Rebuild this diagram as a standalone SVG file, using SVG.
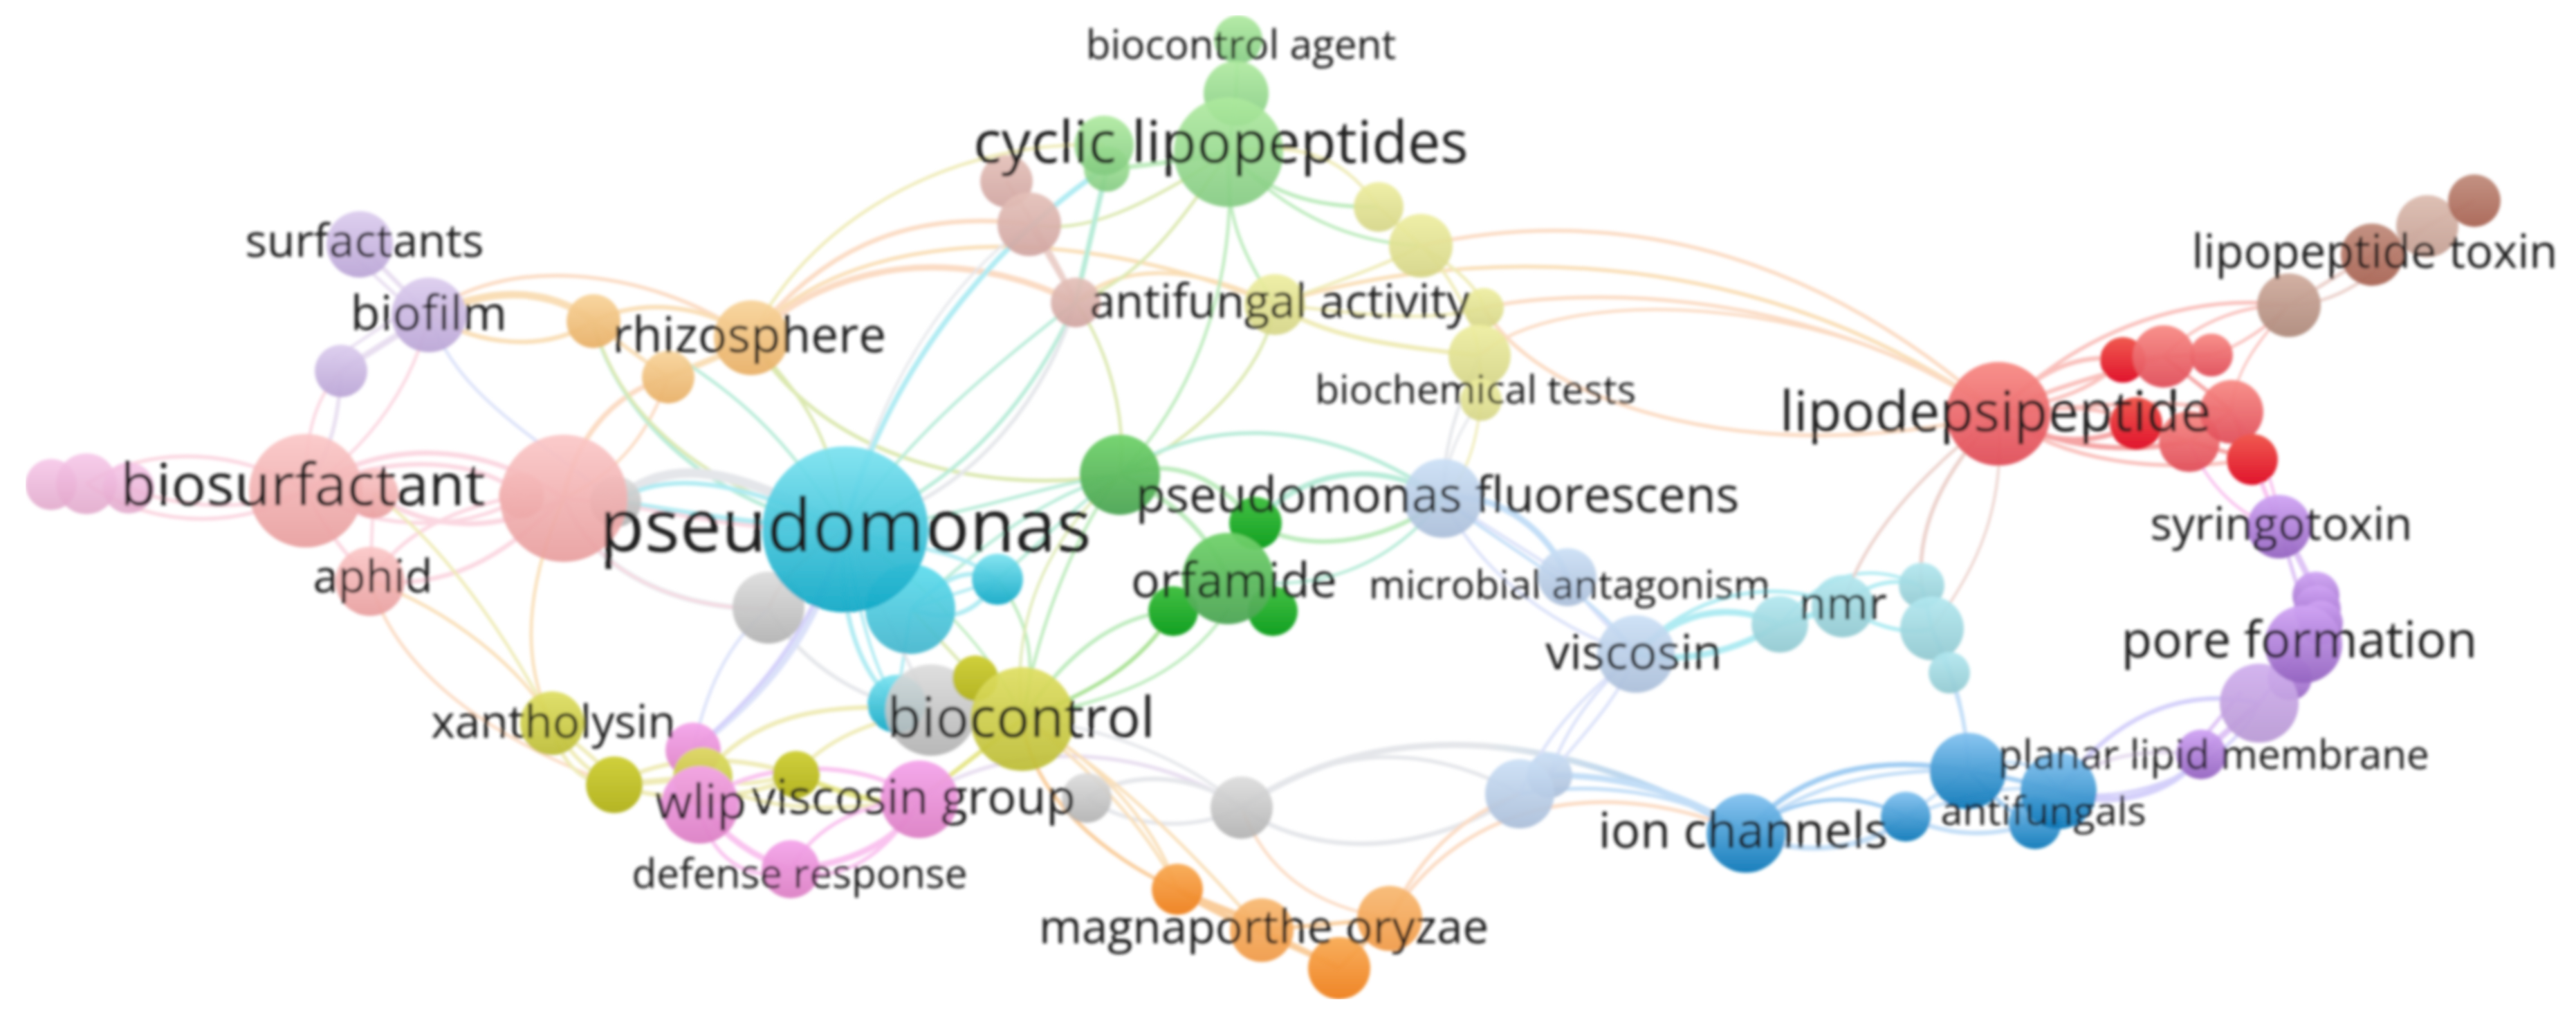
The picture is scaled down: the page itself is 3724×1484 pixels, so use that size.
<svg xmlns="http://www.w3.org/2000/svg" width="3724" height="1484" viewBox="0 0 3724 1484">
<style>
text{font-family:"Open Sans","Noto Sans","Liberation Sans",sans-serif;fill:#1a1a1a;text-anchor:middle}
.e{fill:none}
.w3{stroke-width:3.5}.w4{stroke-width:4.5}.w5{stroke-width:5.5}.w6{stroke-width:6.5}.w7{stroke-width:7.5}.w8{stroke-width:9}.w9{stroke-width:11}.w12{stroke-width:14}
.pk{stroke:#fbd0dc}.pu{stroke:#e4d8ee}.lv{stroke:#d4dcf8}.pe{stroke:#fbd4b8}.or{stroke:#f8d8a8}.ye{stroke:#ece8a8}.yg{stroke:#d4e4a0}.gn{stroke:#b0e8b0}.gm{stroke:#98dc80}.te{stroke:#a8e8d0}.cy{stroke:#a0e8f0}.gy{stroke:#dfe2e6}.rd{stroke:#f8b4b0}.rs{stroke:#f49494}.bl{stroke:#b8d8f6}.bs{stroke:#90c4f0}.mg{stroke:#f8b8ec}.vi{stroke:#d8b8f4}.vb{stroke:#ccc8fa}.br{stroke:#e8c8c0}.oc{stroke:#f8c488}.ol{stroke:#e0e070}.gb{stroke:url(#gb)}
.s57{font-size:57.5px}.s58{font-size:58.5px}.s65{font-size:65.5px}.s66{font-size:66px}.s67{font-size:67px}.s70{font-size:70px}.s71{font-size:71px}.s72{font-size:72.5px}.s80{font-size:80px}.s81{font-size:81px}.s84{font-size:84.5px}.s85{font-size:85px}.s107{font-size:107px}
.cyan{fill:url(#cyan)}.cy2{fill:url(#cy2)}.red1{fill:url(#red1)}.lil{fill:url(#lil)}.oran{fill:url(#oran)}.pnk{fill:url(#pnk)}.grl{fill:url(#grl)}.grm{fill:url(#grm)}.grd{fill:url(#grd)}.bro{fill:url(#bro)}.yel{fill:url(#yel)}.blu{fill:url(#blu)}.gry{fill:url(#gry)}.oli{fill:url(#oli)}.ol2{fill:url(#ol2)}.mag{fill:url(#mag)}.org{fill:url(#org)}.or2{fill:url(#or2)}.ion{fill:url(#ion)}.ltc{fill:url(#ltc)}.rds{fill:url(#rds)}.rdd{fill:url(#rdd)}.tan{fill:url(#tan)}.ta2{fill:url(#ta2)}.tn2{fill:url(#tn2)}.pur{fill:url(#pur)}.pu2{fill:url(#pu2)}
</style>
<defs>
<filter id="soft" x="0" y="0" width="1" height="1" filterUnits="objectBoundingBox"><feGaussianBlur stdDeviation="1.9"/></filter>
<linearGradient id="gb" gradientUnits="userSpaceOnUse" x1="2150" y1="0" x2="2524" y2="0"><stop offset="0" stop-color="#dfe2e6"/><stop offset="1" stop-color="#88c0f0"/></linearGradient>
<linearGradient id="cyan" x1="0" y1="0" x2="0" y2="1"><stop offset="0" stop-color="#7ae2f0" stop-opacity=".92"/><stop offset="1" stop-color="#10a8c6" stop-opacity=".94"/></linearGradient>
<linearGradient id="cy2" x1="0" y1="0" x2="0" y2="1"><stop offset="0" stop-color="#58dcee" stop-opacity=".9"/><stop offset="1" stop-color="#3fb4cc" stop-opacity=".9"/></linearGradient>
<linearGradient id="red1" x1="0" y1="0" x2="0" y2="1"><stop offset="0" stop-color="#fbc6c6" stop-opacity=".9"/><stop offset="1" stop-color="#e89c9c" stop-opacity=".9"/></linearGradient>
<linearGradient id="lil" x1="0" y1="0" x2="0" y2="1"><stop offset="0" stop-color="#dccdee" stop-opacity=".95"/><stop offset="1" stop-color="#bba6d6" stop-opacity=".95"/></linearGradient>
<linearGradient id="oran" x1="0" y1="0" x2="0" y2="1"><stop offset="0" stop-color="#f8d49b" stop-opacity=".95"/><stop offset="1" stop-color="#e8b068" stop-opacity=".95"/></linearGradient>
<linearGradient id="pnk" x1="0" y1="0" x2="0" y2="1"><stop offset="0" stop-color="#f6c4e8" stop-opacity=".85"/><stop offset="1" stop-color="#e0a4c8" stop-opacity=".85"/></linearGradient>
<linearGradient id="grl" x1="0" y1="0" x2="0" y2="1"><stop offset="0" stop-color="#aeea9e" stop-opacity=".9"/><stop offset="1" stop-color="#82ca80" stop-opacity=".9"/></linearGradient>
<linearGradient id="grm" x1="0" y1="0" x2="0" y2="1"><stop offset="0" stop-color="#70d26a" stop-opacity=".95"/><stop offset="1" stop-color="#4ca454" stop-opacity=".95"/></linearGradient>
<linearGradient id="grd" x1="0" y1="0" x2="0" y2="1"><stop offset="0" stop-color="#44c044"/><stop offset="1" stop-color="#12a022"/></linearGradient>
<linearGradient id="bro" x1="0" y1="0" x2="0" y2="1"><stop offset="0" stop-color="#e4c0b8" stop-opacity=".92"/><stop offset="1" stop-color="#d0a4a0" stop-opacity=".92"/></linearGradient>
<linearGradient id="yel" x1="0" y1="0" x2="0" y2="1"><stop offset="0" stop-color="#eeee9e" stop-opacity=".9"/><stop offset="1" stop-color="#d4d484" stop-opacity=".9"/></linearGradient>
<linearGradient id="blu" x1="0" y1="0" x2="0" y2="1"><stop offset="0" stop-color="#cadff6" stop-opacity=".9"/><stop offset="1" stop-color="#a8bcd8" stop-opacity=".9"/></linearGradient>
<linearGradient id="gry" x1="0" y1="0" x2="0" y2="1"><stop offset="0" stop-color="#dcdcdc" stop-opacity=".9"/><stop offset="1" stop-color="#b0b0b0" stop-opacity=".9"/></linearGradient>
<linearGradient id="oli" x1="0" y1="0" x2="0" y2="1"><stop offset="0" stop-color="#dede60" stop-opacity=".92"/><stop offset="1" stop-color="#bcbc34" stop-opacity=".92"/></linearGradient>
<linearGradient id="ol2" x1="0" y1="0" x2="0" y2="1"><stop offset="0" stop-color="#d0d03c"/><stop offset="1" stop-color="#b4b424"/></linearGradient>
<linearGradient id="mag" x1="0" y1="0" x2="0" y2="1"><stop offset="0" stop-color="#f4a4ea" stop-opacity=".95"/><stop offset="1" stop-color="#dc80c4" stop-opacity=".95"/></linearGradient>
<linearGradient id="org" x1="0" y1="0" x2="0" y2="1"><stop offset="0" stop-color="#f8aa54" stop-opacity=".95"/><stop offset="1" stop-color="#ee7f1c" stop-opacity=".95"/></linearGradient>
<linearGradient id="or2" x1="0" y1="0" x2="0" y2="1"><stop offset="0" stop-color="#f8b870" stop-opacity=".92"/><stop offset="1" stop-color="#f09844" stop-opacity=".92"/></linearGradient>
<linearGradient id="ion" x1="0" y1="0" x2="0" y2="1"><stop offset="0" stop-color="#84c2f0" stop-opacity=".95"/><stop offset="1" stop-color="#0c78b8" stop-opacity=".95"/></linearGradient>
<linearGradient id="ltc" x1="0" y1="0" x2="0" y2="1"><stop offset="0" stop-color="#b2e8f0" stop-opacity=".92"/><stop offset="1" stop-color="#90c8d0" stop-opacity=".92"/></linearGradient>
<linearGradient id="rds" x1="0" y1="0" x2="0" y2="1"><stop offset="0" stop-color="#f88a84" stop-opacity=".94"/><stop offset="1" stop-color="#e04c58" stop-opacity=".94"/></linearGradient>
<linearGradient id="rdd" x1="0" y1="0" x2="0" y2="1"><stop offset="0" stop-color="#f05a50"/><stop offset="1" stop-color="#e0142c"/></linearGradient>
<linearGradient id="tan" x1="0" y1="0" x2="0" y2="1"><stop offset="0" stop-color="#dcbcb0" stop-opacity=".95"/><stop offset="1" stop-color="#c4a094" stop-opacity=".95"/></linearGradient>
<linearGradient id="ta2" x1="0" y1="0" x2="0" y2="1"><stop offset="0" stop-color="#d0ac9e" stop-opacity=".95"/><stop offset="1" stop-color="#ae8a7c" stop-opacity=".95"/></linearGradient>
<linearGradient id="tn2" x1="0" y1="0" x2="0" y2="1"><stop offset="0" stop-color="#c08c7c" stop-opacity=".95"/><stop offset="1" stop-color="#a86454" stop-opacity=".95"/></linearGradient>
<linearGradient id="pur" x1="0" y1="0" x2="0" y2="1"><stop offset="0" stop-color="#d0a4f4" stop-opacity=".95"/><stop offset="1" stop-color="#9464c0" stop-opacity=".95"/></linearGradient>
<linearGradient id="pu2" x1="0" y1="0" x2="0" y2="1"><stop offset="0" stop-color="#d0aeee" stop-opacity=".92"/><stop offset="1" stop-color="#b898d4" stop-opacity=".92"/></linearGradient>
</defs>
<rect width="3724" height="1484" fill="#ffffff"/>
<g filter="url(#soft)">
<g id="connectors" class="e" opacity=".84">
<path class="e pk w5" d="M125 699C220 640 350 650 442 709"/>
<path class="e pk w5" d="M125 699C230 770 360 760 442 709"/>
<path class="e pk w5" d="M186 705C260 735 360 740 442 709"/>
<path class="e pk w7" d="M442 709C560 630 700 640 815 720"/>
<path class="e pk w6" d="M442 709C570 650 700 665 754 716"/>
<path class="e pk w7" d="M540 713C620 770 720 770 815 720"/>
<path class="e pk w5" d="M442 709C560 780 700 760 754 716"/>
<path class="e pk w6" d="M535 840C650 850 720 810 815 720"/>
<path class="e pk w5" d="M535 840C570 790 620 740 760 715"/>
<path class="e pk w5" d="M442 709C470 770 510 810 535 840"/>
<path class="e pk w4" d="M540 713L535 840"/>
<path class="e pu w5" d="M493 536C490 600 480 650 442 709"/>
<path class="e pk w4" d="M493 536C460 570 440 620 442 709"/>
<path class="e pk w4" d="M620 455C600 550 540 640 442 709"/>
<path class="e pu w6" d="M520 353L620 455"/>
<path class="e pu w4" d="M500 360L620 470"/>
<path class="e pu w8" d="M620 455L493 536"/>
<path class="e pu w4" d="M600 440L480 520"/>
<path class="e lv w4" d="M620 455C660 570 760 620 890 725"/>
<path class="e pe w5" d="M620 455C720 370 930 380 1086 488"/>
<path class="e or w9" d="M620 455C720 410 800 420 858 464"/>
<path class="e or w6" d="M620 455C690 500 790 510 858 464"/>
<path class="e or w6" d="M858 464C930 430 1020 440 1086 488"/>
<path class="e or w8" d="M966 545C1000 530 1060 510 1086 488"/>
<path class="e or w5" d="M858 464C900 500 930 520 966 545"/>
<path class="e pe w7" d="M966 545C880 570 830 640 815 720"/>
<path class="e pe w4" d="M966 545C940 620 900 680 815 720"/>
<path class="e te w5" d="M858 470C900 610 1030 730 1221 765"/>
<path class="e yg w4" d="M858 464C890 590 1000 690 1160 740"/>
<path class="e yg w4" d="M1086 488C1140 560 1200 600 1221 765"/>
<path class="e te w4" d="M986 520C1060 570 1130 620 1221 765"/>
<path class="e yg w5" d="M1086 488C1180 650 1400 720 1619 686"/>
<path class="e ye w4" d="M1086 488C1180 300 1400 200 1596 210"/>
<path class="e pe w6" d="M1086 488C1180 370 1300 300 1488 324"/>
<path class="e yg w4" d="M1488 324C1570 340 1650 300 1776 220"/>
<path class="e pe w8" d="M1086 488C1200 380 1380 350 1555 437"/>
<path class="e or w5" d="M1086 488C1200 350 1500 300 1843 440"/>
<path class="e or w5" d="M1555 437C1620 380 1720 380 1843 440"/>
<path class="e yg w4" d="M1555 437C1650 400 1700 330 1776 220"/>
<path class="e br w5" d="M1488 324L1555 437"/>
<path class="e br w5" d="M1455 262C1500 330 1540 400 1555 437"/>
<path class="e yg w4" d="M1555 437C1600 500 1630 600 1619 686"/>
<path class="e te w5" d="M1555 437C1500 560 1400 700 1221 765"/>
<path class="e gy w5" d="M1555 437C1520 550 1420 720 1221 765"/>
<path class="e gy w3" d="M1488 324C1380 400 1270 550 1221 765"/>
<path class="e cy w7" d="M1596 244C1480 320 1290 500 1221 765"/>
<path class="e te w7" d="M1600 244L1555 437"/>
<path class="e te w4" d="M1555 437C1450 520 1320 620 1221 765"/>
<path class="e gn w6" d="M1600 244C1660 240 1720 230 1776 220"/>
<path class="e gn w4" d="M1790 55L1787 134L1776 220"/>
<path class="e gn w4" d="M1776 220C1770 320 1800 370 1843 440"/>
<path class="e gn w4" d="M1776 220C1790 420 1720 580 1619 686"/>
<path class="e gn w5" d="M1776 220C1830 280 1900 300 1993 299"/>
<path class="e gn w4" d="M1776 220C1850 300 1940 350 2054 355"/>
<path class="e ye w4" d="M1776 220C1900 200 1950 240 1993 299"/>
<path class="e yg w4" d="M1843 440C1830 540 1720 640 1619 686"/>
<path class="e pe w5" d="M2054 355C2300 300 2600 340 2889 598"/>
<path class="e or w5" d="M1843 440C2050 370 2500 320 2889 598"/>
<path class="e pe w5" d="M2145 445C2250 420 2600 400 2889 598"/>
<path class="e pe w4" d="M2139 514C2250 410 2650 420 2889 598"/>
<path class="e pe w5" d="M2145 445C2230 590 2550 680 2889 598"/>
<path class="e ye w6" d="M1843 440C1920 490 2020 500 2139 514"/>
<path class="e ye w4" d="M1843 440C1920 410 1990 390 2054 355"/>
<path class="e ye w4" d="M1843 440C1950 450 2050 470 2145 445"/>
<path class="e ye w4" d="M2054 355C2100 400 2130 460 2139 514"/>
<path class="e ye w4" d="M2054 355C2110 390 2140 420 2145 445"/>
<path class="e ye w4" d="M1993 299L2054 355"/>
<path class="e ye w4" d="M2139 514L2141 578"/>
<path class="e gy w3" d="M2141 578C2110 620 2090 660 2086 720"/>
<path class="e gy w4" d="M2139 514C2100 600 2085 660 2086 720"/>
<path class="e ye w3" d="M2141 578C2135 640 2120 690 2086 720"/>
<path class="e te w5" d="M1619 686C1720 610 1900 590 2086 720"/>
<path class="e gn w6" d="M1619 686C1700 660 1760 690 1815 756"/>
<path class="e gn w6" d="M1619 686C1690 720 1740 760 1776 836"/>
<path class="e te w4" d="M1619 686C1500 700 1400 750 1221 765"/>
<path class="e te w4" d="M1619 686C1530 710 1450 760 1317 880"/>
<path class="e te w4" d="M1619 686C1540 740 1490 800 1442 837"/>
<path class="e gn w4" d="M1619 686C1560 760 1500 900 1478 1039"/>
<path class="e gn w6" d="M1815 756C1880 800 2000 790 2086 720"/>
<path class="e te w4" d="M1776 836C1900 860 2010 820 2086 720"/>
<path class="e te w7" d="M1815 756C1880 680 1990 660 2086 720"/>
<path class="e gn w5" d="M1478 1039C1530 960 1600 890 1696 883"/>
<path class="e gm w5" d="M1478 1039C1580 1000 1650 960 1696 883"/>
<path class="e gn w4" d="M1478 1039C1600 1010 1700 990 1776 880"/>
<path class="e gn w4" d="M1442 837C1490 900 1500 960 1478 1039"/>
<path class="e yg w3" d="M1619 686C1510 780 1460 900 1478 1039"/>
<path class="e gn w3" d="M1221 765C1350 850 1440 950 1478 1039"/>
<path class="e yg w4" d="M1317 880L1410 980"/>
<path class="e cy w6" d="M1317 880C1370 830 1400 820 1442 837"/>
<path class="e cy w6" d="M1317 880C1370 900 1410 890 1442 837"/>
<path class="e cy w4" d="M1317 880C1370 860 1410 850 1442 837"/>
<path class="e cy w5" d="M1221 765C1300 790 1380 790 1442 837"/>
<path class="e cy w6" d="M1221 765C1210 880 1240 970 1296 1017"/>
<path class="e cy w4" d="M1221 765C1240 880 1260 960 1296 1017"/>
<path class="e cy w4" d="M1317 880L1296 1017"/>
<path class="e gy w4" d="M1221 765L1346 1026"/>
<path class="e gy w12" d="M890 725C960 660 1060 670 1221 765"/>
<path class="e cy w6" d="M890 725C960 680 1060 690 1221 765"/>
<path class="e cy w8" d="M890 725C980 740 1100 760 1221 765"/>
<path class="e pk w5" d="M815 720C950 730 1050 770 1221 765"/>
<path class="e gy w7" d="M815 720C860 830 980 880 1111 880"/>
<path class="e pk w3" d="M815 720C860 830 980 880 1111 880"/>
<path class="e br w5" d="M1221 765C1170 800 1130 830 1111 880"/>
<path class="e gy w5" d="M1111 880C1160 960 1250 1020 1346 1026"/>
<path class="e lv w8" d="M1221 765C1180 920 1110 1000 1002 1084"/>
<path class="e vb w5" d="M1221 765C1170 920 1090 1010 1002 1084"/>
<path class="e lv w4" d="M1111 880C1050 930 1020 1000 1002 1084"/>
<path class="e or w4" d="M815 720C745 880 765 980 798 1045"/>
<path class="e ye w4" d="M540 713C650 790 750 950 798 1045"/>
<path class="e or w4" d="M535 840C650 880 760 970 798 1045"/>
<path class="e pe w4" d="M535 840C570 960 690 1060 888 1134"/>
<path class="e ye w5" d="M798 1045C830 1100 860 1120 888 1134"/>
<path class="e ye w5" d="M798 1045C810 1110 850 1135 888 1134"/>
<path class="e ye w5" d="M798 1045C850 1090 875 1105 888 1134"/>
<path class="e ye w8" d="M888 1134L1016 1123"/>
<path class="e ye w6" d="M888 1134C960 1090 1060 1090 1151 1119"/>
<path class="e ye w6" d="M888 1134C960 1160 1080 1160 1151 1119"/>
<path class="e ye w5" d="M1016 1123C1070 1140 1100 1130 1151 1119"/>
<path class="e ye w6" d="M1016 1123C1080 1040 1180 1010 1346 1026"/>
<path class="e ye w5" d="M1151 1119C1190 1070 1260 1040 1346 1026"/>
<path class="e ye w5" d="M1016 1123C1100 1180 1230 1170 1329 1155"/>
<path class="e ol w7" d="M1151 1119C1200 1140 1280 1170 1329 1155"/>
<path class="e ol w6" d="M1329 1155L1478 1039"/>
<path class="e mg w6" d="M1012 1163C1080 1100 1240 1090 1329 1155"/>
<path class="e mg w8" d="M1012 1163C1050 1210 1090 1240 1143 1256"/>
<path class="e mg w5" d="M1012 1163C1020 1240 1090 1280 1143 1256"/>
<path class="e mg w8" d="M1329 1155C1300 1220 1220 1250 1143 1256"/>
<path class="e mg w5" d="M1329 1155C1280 1240 1210 1280 1143 1256"/>
<path class="e mg w5" d="M1143 1256C1180 1190 1250 1160 1329 1155"/>
<path class="e pu w5" d="M1329 1155C1450 1070 1650 1070 1795 1167"/>
<path class="e gy w6" d="M1571 1153C1640 1110 1730 1120 1795 1167"/>
<path class="e gy w5" d="M1571 1153C1640 1200 1730 1200 1795 1167"/>
<path class="e gy w4" d="M1478 1039C1600 1050 1720 1100 1795 1167"/>
<path class="e oc w5" d="M1478 1039C1490 1150 1600 1240 1702 1285"/>
<path class="e or w4" d="M1478 1039C1580 1090 1670 1190 1702 1285"/>
<path class="e or w4" d="M1478 1039C1570 1100 1660 1200 1702 1285"/>
<path class="e or w4" d="M1478 1039C1620 1120 1730 1240 1824 1344"/>
<path class="e oc w8" d="M1702 1285C1750 1310 1800 1320 1824 1344"/>
<path class="e oc w7" d="M1702 1285C1770 1330 1880 1370 1936 1399"/>
<path class="e oc w5" d="M1824 1344L2009 1327"/>
<path class="e oc w8" d="M1824 1344L1936 1399"/>
<path class="e oc w5" d="M1936 1399L2009 1327"/>
<path class="e pe w4" d="M1795 1167C1830 1260 1900 1310 2009 1327"/>
<path class="e gb w8" d="M1795 1167C1950 1060 2200 1020 2524 1204"/>
<path class="e gy w5" d="M1795 1167C1900 1090 2040 1060 2197 1147"/>
<path class="e gy w6" d="M1795 1167C1880 1230 2040 1250 2197 1147"/>
<path class="e pe w5" d="M2009 1327C2050 1240 2110 1180 2197 1147"/>
<path class="e pe w5" d="M2009 1327C2120 1150 2330 1120 2524 1204"/>
<path class="e bl w8" d="M2240 1120C2330 1120 2430 1140 2524 1204"/>
<path class="e bl w5" d="M2197 1147C2300 1130 2430 1140 2524 1204"/>
<path class="e lv w4" d="M2197 1147C2230 1070 2280 1010 2365 945"/>
<path class="e lv w4" d="M2240 1120C2260 1060 2300 1000 2365 945"/>
<path class="e lv w4" d="M2240 1120C2290 1060 2340 1010 2365 945"/>
<path class="e lv w4" d="M2086 720C2140 830 2250 910 2365 945"/>
<path class="e lv w4" d="M2086 720L2266 834"/>
<path class="e bl w8" d="M2086 720C2170 710 2240 770 2266 834"/>
<path class="e lv w5" d="M2266 834C2290 870 2330 910 2365 945"/>
<path class="e bl w4" d="M2086 720C2170 790 2300 850 2365 945"/>
<path class="e cy w8" d="M2365 945C2430 880 2500 870 2573 902"/>
<path class="e cy w8" d="M2365 945C2440 960 2510 940 2573 902"/>
<path class="e cy w5" d="M2365 945C2440 860 2560 830 2664 876"/>
<path class="e cy w8" d="M2573 902L2664 876"/>
<path class="e cy w5" d="M2664 876C2700 840 2740 835 2778 846"/>
<path class="e cy w5" d="M2664 876C2700 900 2750 920 2793 908"/>
<path class="e cy w4" d="M2573 902C2650 810 2720 820 2778 846"/>
<path class="e cy w5" d="M2778 846L2793 908L2818 972"/>
<path class="e bl w5" d="M2818 972C2835 1020 2845 1060 2845 1114"/>
<path class="e bl w4" d="M2793 908C2830 980 2845 1050 2845 1114"/>
<path class="e br w4" d="M2889 598C2780 680 2690 780 2664 876"/>
<path class="e br w5" d="M2889 598C2810 680 2770 760 2778 846"/>
<path class="e br w3" d="M2889 598C2900 730 2860 820 2793 908"/>
<path class="e rd w6" d="M2889 598C2950 530 3010 510 3069 520"/>
<path class="e rd w6" d="M2889 598C2960 560 3050 540 3128 515"/>
<path class="e rd w5" d="M2889 598C2960 580 3020 570 3069 520"/>
<path class="e rd w5" d="M2889 598C2960 590 3030 580 3088 612"/>
<path class="e rs w7" d="M2889 598C2960 640 3050 660 3165 638"/>
<path class="e rs w7" d="M2889 598C2960 650 3040 640 3088 612"/>
<path class="e rd w5" d="M2889 598C3000 590 3120 570 3226 595"/>
<path class="e rd w5" d="M2889 598C3000 680 3150 680 3256 664"/>
<path class="e rd w5" d="M2889 598C2990 490 3150 420 3309 441"/>
<path class="e rd w4" d="M3128 515C3180 460 3250 440 3309 441"/>
<path class="e rd w4" d="M3197 513C3240 500 3280 470 3309 441"/>
<path class="e rd w3" d="M3226 595C3230 530 3270 490 3309 441"/>
<path class="e br w5" d="M3309 441L3429 368"/>
<path class="e br w4" d="M3309 441C3380 440 3430 400 3509 327"/>
<path class="e br w5" d="M3429 368L3509 327"/>
<path class="e br w5" d="M3509 327L3577 290"/>
<path class="e br w4" d="M3429 368L3577 290"/>
<path class="e rd w5" d="M3069 520L3128 515"/>
<path class="e rd w5" d="M3128 515L3197 513"/>
<path class="e rs w5" d="M3128 515C3170 550 3200 570 3226 595"/>
<path class="e rd w5" d="M3088 612L3165 638"/>
<path class="e rd w5" d="M3165 638L3226 595"/>
<path class="e rs w6" d="M3165 638L3256 664"/>
<path class="e rd w5" d="M3226 595L3256 664"/>
<path class="e mg w4" d="M3165 638C3190 700 3240 750 3295 761"/>
<path class="e mg w6" d="M3256 664L3295 761"/>
<path class="e mg w4" d="M3226 595C3270 650 3290 700 3295 761"/>
<path class="e vi w8" d="M3305 770L3350 860"/>
<path class="e vi w5" d="M3295 761L3325 860"/>
<path class="e vi w5" d="M3330 931L3266 1016"/>
<path class="e vb w6" d="M3266 1016C3150 990 3050 1040 2976 1143"/>
<path class="e vb w8" d="M3182 1090C3140 1150 3050 1170 2976 1143"/>
<path class="e vb w4" d="M3266 1016C3230 1100 3090 1170 2976 1143"/>
<path class="e vi w8" d="M3182 1090L3266 1016"/>
<path class="e vi w5" d="M3182 1070L3240 1000"/>
<path class="e pu w5" d="M2976 1143C3040 1080 3120 1085 3182 1090"/>
<path class="e bs w7" d="M2524 1204C2600 1110 2720 1090 2845 1114"/>
<path class="e bl w5" d="M2524 1204C2610 1130 2730 1110 2845 1114"/>
<path class="e bs w5" d="M2524 1204C2590 1150 2680 1140 2755 1180"/>
<path class="e bl w7" d="M2524 1204C2600 1240 2700 1230 2755 1180"/>
<path class="e bl w6" d="M2755 1180C2820 1210 2880 1210 2942 1189"/>
<path class="e bs w6" d="M2845 1114C2890 1120 2930 1130 2976 1143"/>
<path class="e bs w5" d="M2845 1114C2880 1150 2910 1180 2942 1189"/>
<path class="e bl w4" d="M2845 1114C2900 1090 2950 1100 2976 1143"/>
<path class="e bl w4" d="M2755 1180L2845 1114"/>
<path class="e bl w4" d="M2755 1180C2840 1150 2900 1130 2976 1143"/>
</g>
<g id="node-pink1"><circle class="pnk" cx="74" cy="700" r="37"/></g>
<g id="node-pink2"><circle class="pnk" cx="125" cy="699" r="44"/></g>
<g id="node-pink3"><circle class="pnk" cx="186" cy="705" r="37"/></g>
<g id="node-red-small"><circle class="red1" cx="540" cy="713" r="36"/></g>
<g id="node-red-inner"><circle class="red1" cx="754" cy="716" r="33"/></g>
<g id="node-grey1"><circle class="gry" cx="890" cy="725" r="37"/></g>
<g id="node-lil3"><circle class="lil" cx="493" cy="536" r="38"/></g>
<g id="node-or1"><circle class="oran" cx="858" cy="464" r="39"/></g>
<g id="node-or2"><circle class="oran" cx="966" cy="545" r="38"/></g>
<g id="node-redbig"><circle class="red1" cx="815" cy="720" r="92"/></g>
<g id="node-green-top"><circle class="grl" cx="1790" cy="57" r="35"/></g>
<g id="node-green2"><circle class="grl" cx="1787" cy="135" r="47"/></g>
<g id="node-green3"><circle class="grl" cx="1600" cy="244" r="33"/></g>
<g id="node-green4"><circle class="grl" cx="1596" cy="210" r="43"/></g>
<g id="node-brown1"><circle class="bro" cx="1455" cy="262" r="38"/></g>
<g id="node-brown2"><circle class="bro" cx="1488" cy="324" r="46"/></g>
<g id="node-brown3"><circle class="bro" cx="1555" cy="437" r="36"/></g>
<g id="node-yel1"><circle class="yel" cx="1993" cy="299" r="36"/></g>
<g id="node-yel2"><circle class="yel" cx="2054" cy="355" r="46"/></g>
<g id="node-yel3"><circle class="yel" cx="2145" cy="445" r="29"/></g>
<g id="node-yel4"><circle class="yel" cx="2139" cy="514" r="45"/></g>
<g id="node-greenmid"><circle class="grm" cx="1619" cy="686" r="58"/></g>
<g id="node-green-o1"><circle class="grd" cx="1815" cy="756" r="38"/></g>
<g id="node-green-o2"><circle class="grd" cx="1696" cy="883" r="36"/></g>
<g id="node-green-o3"><circle class="grd" cx="1840" cy="883" r="36"/></g>
<g id="node-grey2"><circle class="gry" cx="1111" cy="878" r="52"/></g>
<g id="node-cyan2"><circle class="cy2" cx="1316" cy="880" r="65"/></g>
<g id="node-cyan3"><circle class="cyan" cx="1442" cy="837" r="37"/></g>
<g id="node-cyan4"><circle class="cyan" cx="1296" cy="1017" r="42"/></g>
<g id="node-grey3"><circle class="gry" cx="1346" cy="1026" r="66"/></g>
<g id="node-olive1"><circle class="ol2" cx="1410" cy="980" r="33"/></g>
<g id="node-olive2"><circle class="ol2" cx="888" cy="1134" r="41"/></g>
<g id="node-mag1"><circle class="mag" cx="1002" cy="1084" r="40"/></g>
<g id="node-olive3"><circle class="oli" cx="1016" cy="1123" r="43"/></g>
<g id="node-olive4"><circle class="ol2" cx="1151" cy="1119" r="34"/></g>
<g id="node-grey4"><circle class="gry" cx="1571" cy="1153" r="36"/></g>
<g id="node-grey5"><circle class="gry" cx="1795" cy="1167" r="45"/></g>
<g id="node-or3"><circle class="org" cx="1702" cy="1285" r="37"/></g>
<g id="node-or4"><circle class="or2" cx="2009" cy="1327" r="47"/></g>
<g id="node-or5"><circle class="org" cx="1936" cy="1399" r="45"/></g>
<g id="node-blue2"><circle class="blu" cx="2240" cy="1120" r="33"/></g>
<g id="node-blue3"><circle class="blu" cx="2197" cy="1147" r="50"/></g>
<g id="node-ltc1"><circle class="ltc" cx="2573" cy="902" r="41"/></g>
<g id="node-ltc2"><circle class="ltc" cx="2778" cy="846" r="33"/></g>
<g id="node-ltc3"><circle class="ltc" cx="2793" cy="908" r="46"/></g>
<g id="node-ltc4"><circle class="ltc" cx="2818" cy="972" r="30"/></g>
<g id="node-ion2"><circle class="ion" cx="2755" cy="1180" r="36"/></g>
<g id="node-ion3"><circle class="ion" cx="2845" cy="1114" r="55"/></g>
<g id="node-ion4"><circle class="ion" cx="2942" cy="1189" r="38"/></g>
<g id="node-red1"><circle class="rdd" cx="3069" cy="520" r="33"/></g>
<g id="node-red2"><circle class="rds" cx="3128" cy="515" r="45"/></g>
<g id="node-red3"><circle class="rds" cx="3197" cy="513" r="31"/></g>
<g id="node-red4"><circle class="rdd" cx="3088" cy="612" r="38"/></g>
<g id="node-red5"><circle class="rds" cx="3165" cy="638" r="44"/></g>
<g id="node-red6"><circle class="rds" cx="3226" cy="595" r="46"/></g>
<g id="node-red7"><circle class="rdd" cx="3256" cy="664" r="37"/></g>
<g id="node-tan1"><circle class="ta2" cx="3309" cy="441" r="46"/></g>
<g id="node-tan3"><circle class="tan" cx="3509" cy="327" r="45"/></g>
<g id="node-tan4"><circle class="tn2" cx="3577" cy="290" r="38"/></g>
<g id="node-pur1"><circle class="pur" cx="3348" cy="860" r="34"/></g>
<g id="node-pur2"><circle class="pur" cx="3350" cy="880" r="34"/></g>
<g id="node-pur3"><circle class="pur" cx="3355" cy="900" r="32"/></g>
<g id="node-pur4"><circle class="pur" cx="3310" cy="980" r="32"/></g>
<g id="node-pur5"><circle class="pu2" cx="3266" cy="1016" r="57"/></g>
<g id="node-blue-r"><circle class="ion" cx="2976" cy="1143" r="55"/></g>
<g id="node-surfactants"><circle class="lil" cx="520" cy="353" r="48"/><text class="s66" x="527" y="371">surfactants</text></g>
<g id="node-biofilm"><circle class="lil" cx="620" cy="455" r="54"/><text class="s70" x="620" y="477">biofilm</text></g>
<g id="node-rhizosphere"><circle class="oran" cx="1086" cy="488" r="54"/><text class="s71" x="1083" y="509">rhizosphere</text></g>
<g id="node-biosurfactant"><circle class="red1" cx="442" cy="709" r="82"/><text class="s85" x="438" y="730">biosurfactant</text></g>
<g id="node-aphid"><circle class="red1" cx="535" cy="840" r="50"/><text class="s65" x="539" y="856">aphid</text></g>
<g id="node-pseudomonas"><circle class="cyan" cx="1222" cy="765" r="120"/><text class="s107" x="1222" y="797">pseudomonas</text></g>
<g id="node-cyclic-lipopeptides"><circle class="grl" cx="1776" cy="220" r="79"/><text class="s84" x="1765" y="235">cyclic lipopeptides</text></g>
<g id="node-biocontrol-agent"><text class="s58" x="1794" y="85">biocontrol agent</text></g>
<g id="node-antifungal-activity"><circle class="yel" cx="1843" cy="440" r="44"/><text class="s67" x="1850" y="459">antifungal activity</text></g>
<g id="node-biochemical-tests"><circle class="yel" cx="2141" cy="578" r="30"/><text class="s57" x="2133" y="583">biochemical tests</text></g>
<g id="node-pseudomonas-fluorescens"><circle class="blu" cx="2086" cy="720" r="57"/><text class="s71" x="2078" y="740">pseudomonas fluorescens</text></g>
<g id="node-orfamide"><circle class="grm" cx="1775" cy="836" r="66"/><text class="s70" x="1784" y="863">orfamide</text></g>
<g id="node-microbial-antagonism"><circle class="blu" cx="2266" cy="834" r="42"/><text class="s57" x="2269" y="865">microbial antagonism</text></g>
<g id="node-viscosin"><circle class="blu" cx="2365" cy="945" r="56"/><text class="s70" x="2362" y="967">viscosin</text></g>
<g id="node-nmr"><circle class="ltc" cx="2664" cy="876" r="45"/><text class="s65" x="2664" y="895">nmr</text></g>
<g id="node-ion-channels"><circle class="ion" cx="2524" cy="1204" r="57"/><text class="s71" x="2520" y="1225">ion channels</text></g>
<g id="node-antifungals"><text class="s57" x="2954" y="1192">antifungals</text></g>
<g id="node-planar-lipid-membrane"><circle class="pur" cx="3182" cy="1090" r="36"/><text class="s58" x="3200" y="1111">planar lipid membrane</text></g>
<g id="node-pore-formation"><circle class="pur" cx="3330" cy="931" r="56"/><text class="s72" x="3324" y="950">pore formation</text></g>
<g id="node-syringotoxin"><circle class="pur" cx="3295" cy="761" r="46"/><text class="s66" x="3298" y="780">syringotoxin</text></g>
<g id="node-lipodepsipeptide"><circle class="rds" cx="2889" cy="598" r="75"/><text class="s80" x="2885" y="623">lipodepsipeptide</text></g>
<g id="node-lipopeptide-toxin"><circle class="tn2" cx="3429" cy="368" r="45"/><text class="s67" x="3433" y="387">lipopeptide toxin</text></g>
<g id="node-xantholysin"><circle class="oli" cx="798" cy="1045" r="46"/><text class="s66" x="800" y="1066">xantholysin</text></g>
<g id="node-wlip"><circle class="mag" cx="1012" cy="1163" r="56"/><text class="s70" x="1013" y="1183">wlip</text></g>
<g id="node-viscosin-group"><circle class="mag" cx="1329" cy="1155" r="56"/><text class="s70" x="1321" y="1176">viscosin group</text></g>
<g id="node-defense-response"><circle class="mag" cx="1143" cy="1256" r="42"/><text class="s58" x="1156" y="1283">defense response</text></g>
<g id="node-biocontrol"><circle class="oli" cx="1478" cy="1039" r="75"/><text class="s81" x="1476" y="1065">biocontrol</text></g>
<g id="node-magnaporthe-oryzae"><circle class="or2" cx="1824" cy="1344" r="46"/><text class="s67" x="1827" y="1363">magnaporthe oryzae</text></g>
</g>
</svg>
